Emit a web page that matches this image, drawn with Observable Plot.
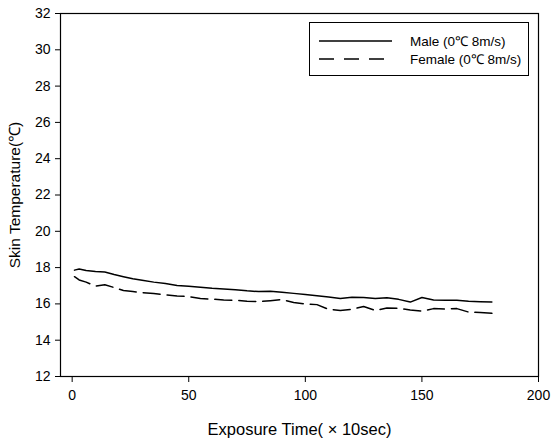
<!DOCTYPE html>
<html><head><meta charset="utf-8">
<script src="https://cdn.jsdelivr.net/npm/d3@7"></script>
<script src="https://cdn.jsdelivr.net/npm/@observablehq/plot@0.6"></script>
<style>
body{margin:0;background:#fff;font-family:"Liberation Sans",Arial,sans-serif;}
#wrap{position:relative;width:551px;height:442px;}
#legend{position:absolute;left:309px;top:22px;width:218px;height:52px;border:1px solid #000;background:#fff;color:#000;}
</style></head><body>
<div id="wrap"></div>
<script>
const time = [1,3,6,10,14,18,22,26,30,35,40,45,50,55,60,65,70,75,80,85,90,95,100,105,110,115,120,125,130,135,140,145,150,155,160,165,170,175,180];
const male = [17.86,17.92,17.84,17.78,17.76,17.62,17.5,17.38,17.3,17.2,17.12,17.02,16.97,16.92,16.86,16.82,16.78,16.72,16.68,16.7,16.64,16.58,16.52,16.45,16.38,16.3,16.36,16.35,16.3,16.34,16.25,16.1,16.35,16.22,16.2,16.2,16.15,16.12,16.1];
const female = [17.5,17.32,17.2,16.98,17.06,16.9,16.74,16.68,16.62,16.57,16.5,16.44,16.4,16.3,16.26,16.22,16.2,16.15,16.12,16.18,16.24,16.08,16.0,15.96,15.7,15.64,15.7,15.86,15.64,15.78,15.76,15.66,15.6,15.74,15.72,15.74,15.55,15.52,15.48];
const xTicks = [0,50,100,150,200];
const yTicks = [12,14,16,18,20,22,24,26,28,30,32];
const seriesNames = ["Male (0\u2103 8m/s)","Female (0\u2103 8m/s)"];

const maleData = time.map((t,i)=>({t, v: male[i]}));
const femaleData = time.map((t,i)=>({t, v: female[i]}));

const chart = Plot.plot({
  width: 551, height: 442,
  marginLeft: 60, marginRight: 13, marginTop: 13, marginBottom: 66,
  style: {fontFamily: '"Liberation Sans", Arial, sans-serif', fontSize: "14px", color: "#000", background: "#fff"},
  x: {domain: [-5, 200]},
  y: {domain: [12, 32]},
  marks: [
    Plot.frame({stroke: "#000", strokeWidth: 1.2}),
    Plot.axisX({ticks: xTicks, tickSize: 6, tickPadding: 8, fontSize: 14, label: "Exposure Time( \u00d7 10sec)", labelAnchor: "center", labelArrow: "none", labelOffset: 58}),
    Plot.axisY({ticks: yTicks, tickSize: 5, tickPadding: 5, fontSize: 14, label: "Skin Temperature(\u2103)", labelAnchor: "center", labelArrow: "none", labelOffset: 52}),
    Plot.line(maleData, {x: "t", y: "v", stroke: "#000", strokeWidth: 1.5}),
    Plot.line(femaleData, {x: "t", y: "v", stroke: "#000", strokeWidth: 1.5, strokeDasharray: "17,7"})
  ]
});
chart.querySelectorAll('g[aria-label="x-axis label"] text').forEach(t=>t.style.fontSize="16.5px");
chart.querySelectorAll('g[aria-label="y-axis label"] text').forEach(t=>t.style.fontSize="15.5px");
const wrap = document.getElementById("wrap");
wrap.appendChild(chart);

const legend = document.createElement("div");
legend.id = "legend";
legend.innerHTML = `<svg width="218" height="52" style="position:absolute;left:0;top:0;overflow:visible">
  <line x1="9" x2="82" y1="18" y2="18" stroke="#000" stroke-width="1.3"/>
  <line x1="9" x2="80" y1="36" y2="36" stroke="#000" stroke-width="1.3" stroke-dasharray="15,10"/>
  <text x="100" y="23" font-size="13.5" font-family="Liberation Sans, Arial, sans-serif">${seriesNames[0]}</text>
  <text x="100" y="41" font-size="13.5" font-family="Liberation Sans, Arial, sans-serif">${seriesNames[1]}</text>
</svg>`;
wrap.appendChild(legend);
</script>
</body></html>
